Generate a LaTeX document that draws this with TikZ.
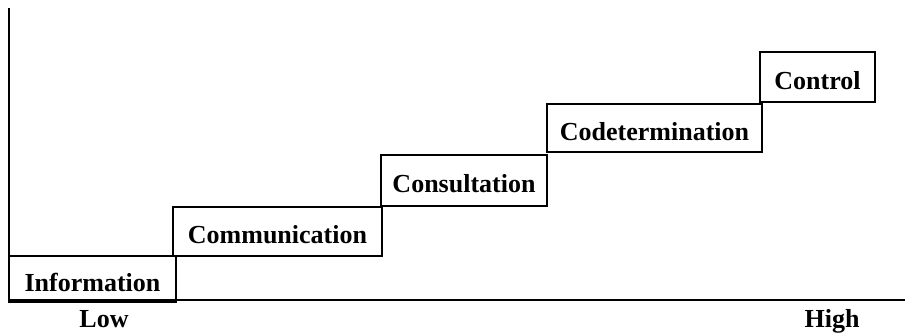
\documentclass[tikz,border=0pt]{standalone}
\usepackage{fontspec}
\setmainfont{Liberation Serif}
\begin{document}
\begin{tikzpicture}[x=1pt,y=-1pt,
  stage/.style={draw, line width=1.8pt, inner sep=0pt,
    font=\bfseries\fontsize{26}{30}\selectfont, text height=24pt, text depth=0pt},
  axislabel/.style={anchor=base, inner sep=0pt, font=\bfseries\fontsize{26}{30}\selectfont}]
  \useasboundingbox (0,0) rectangle (906,333);

  % axes
  \coordinate (ytop) at (9,8);
  \coordinate (origin) at (9,300);
  \coordinate (xend) at (905,300);
  \draw[line width=1.8pt] (ytop) -- (origin) -- (xend);

  % staircase of participation stages
  \node[stage, minimum width=167pt, minimum height=46pt] (info) at (92.5,279) {Information};
  \node[stage, minimum width=209pt, minimum height=49pt] (comm) at (277.5,231.5) {Communication};
  \node[stage, minimum width=166pt, minimum height=51pt] (cons) at (464,180.5) {Consultation};
  \node[stage, minimum width=215pt, minimum height=48pt] (codet) at (654.5,128) {Codetermination};
  \node[stage, minimum width=115pt, minimum height=50pt] (ctrl) at (817.5,77) {Control};

  % axis end labels
  \node[axislabel] (low) at (104,327) {Low};
  \node[axislabel] (high) at (832,327) {High};
\end{tikzpicture}
\end{document}
